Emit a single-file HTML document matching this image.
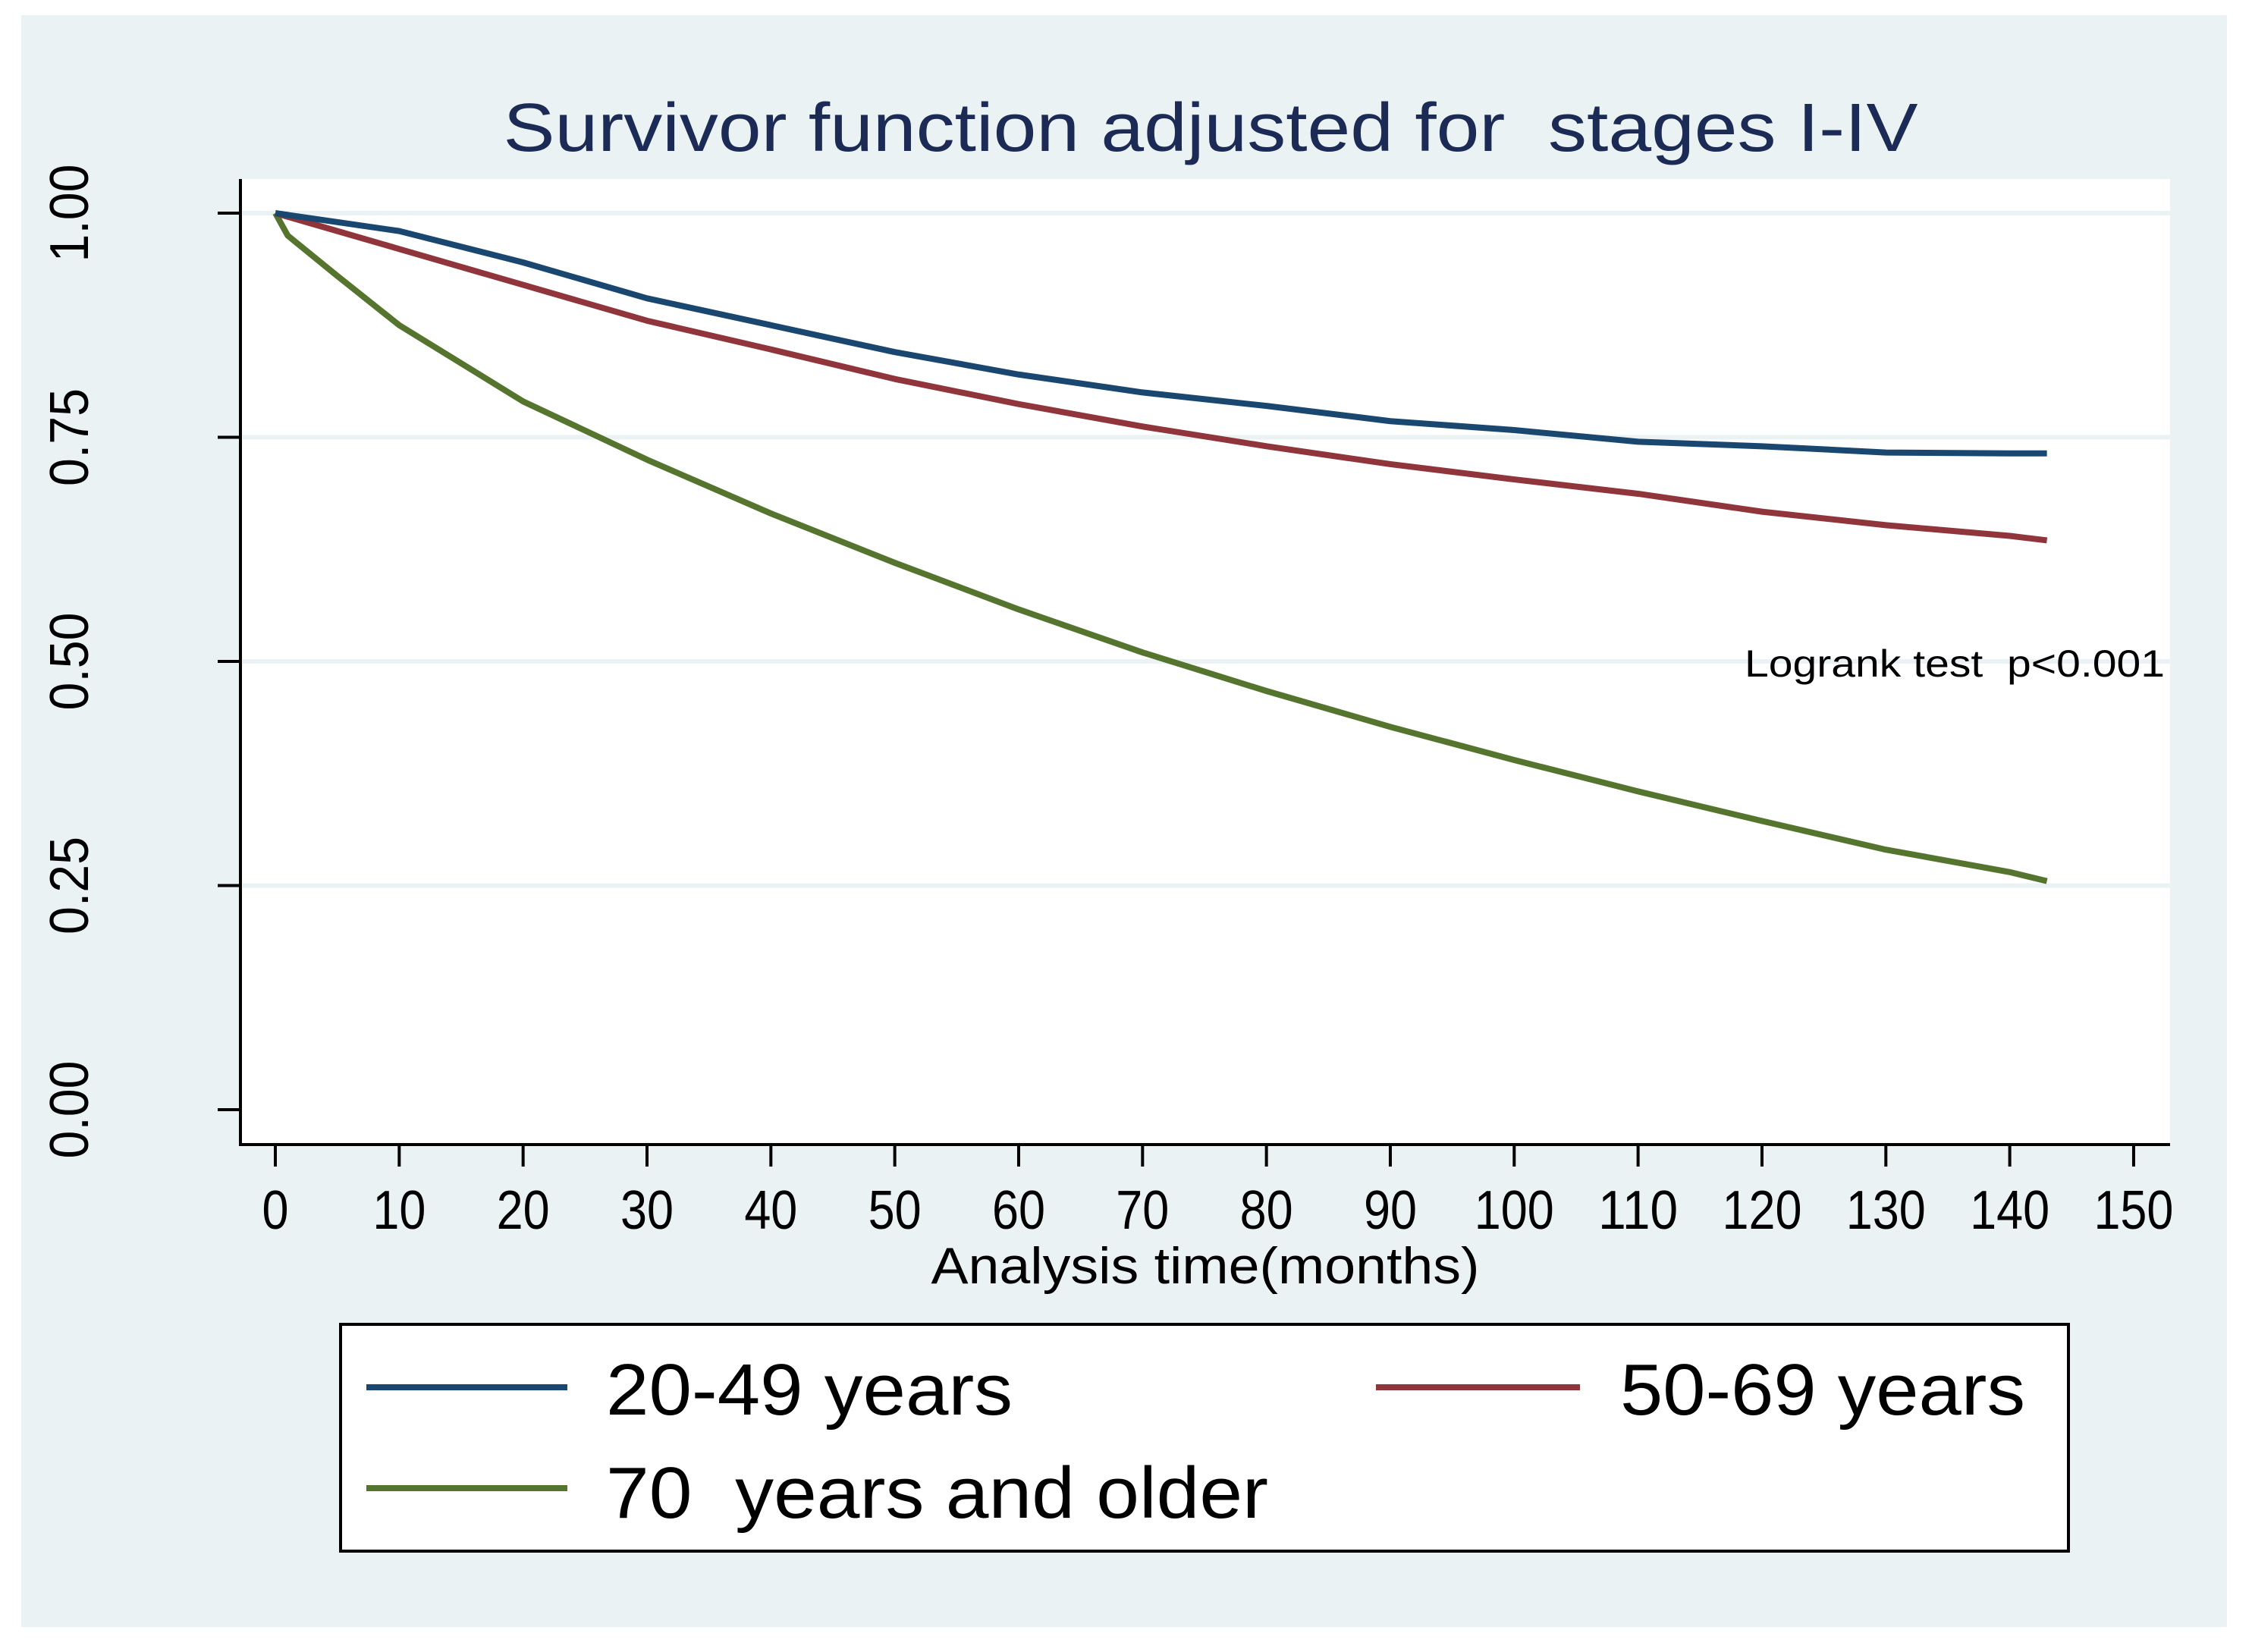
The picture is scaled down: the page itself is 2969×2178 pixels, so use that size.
<!DOCTYPE html>
<html><head><meta charset="utf-8"><style>
html,body{margin:0;padding:0;background:#fff}
svg{display:block;font-family:"Liberation Sans",Arial,sans-serif}
text{white-space:pre}
</style></head><body>
<svg width="2969" height="2178" viewBox="0 0 2969 2178" id="chart" xml:space="preserve">
<rect x="28" y="20" width="2908" height="2125" fill="#eaf2f3"/>
<rect x="317" y="236" width="2544" height="1273" fill="#ffffff"/>
<text x="1596" y="199" text-anchor="middle" font-size="90" fill="#1c2b55" textLength="1865" lengthAdjust="spacingAndGlyphs">Survivor function adjusted for  stages I-IV</text>
<g id="grid"></g>
<g id="series"></g>
<line x1="317" y1="236" x2="317" y2="1511" stroke="#000" stroke-width="4"/>
<line x1="315" y1="1509" x2="2861" y2="1509" stroke="#000" stroke-width="4"/>
<g id="axes"></g>
<text x="2854" y="892" text-anchor="end" font-size="50" fill="#000" textLength="554" lengthAdjust="spacingAndGlyphs">Logrank test  p&lt;0.001</text>
<text x="1589" y="1692" text-anchor="middle" font-size="68" fill="#000" textLength="723" lengthAdjust="spacingAndGlyphs">Analysis time(months)</text>
<g>
<rect x="449" y="1746" width="2278" height="299" fill="#fff" stroke="#000" stroke-width="4"/>
<line x1="483" y1="1829" x2="748" y2="1829" stroke="#1a476f" stroke-width="8"/>
<text x="799" y="1865" font-size="96" textLength="536" lengthAdjust="spacingAndGlyphs">20-49 years</text>
<line x1="1814" y1="1829" x2="2083" y2="1829" stroke="#90353b" stroke-width="8"/>
<text x="2136" y="1865" font-size="96" textLength="534" lengthAdjust="spacingAndGlyphs">50-69 years</text>
<line x1="483" y1="1962" x2="748" y2="1962" stroke="#55752f" stroke-width="8"/>
<text x="799" y="2001" font-size="96" textLength="873" lengthAdjust="spacingAndGlyphs">70  years and older</text>
</g>
</svg>
<script>
const months = [0,1,5,10,20,30,40,50,60,70,80,90,100,110,120,130,140,143];
const young = [1,0.998,0.99,0.98,0.945,0.905,0.875,0.845,0.82,0.80,0.785,0.768,0.758,0.745,0.74,0.733,0.732,0.732];
const middle = [1,0.996,0.98,0.96,0.92,0.88,0.848,0.815,0.787,0.762,0.74,0.72,0.703,0.687,0.667,0.652,0.64,0.635];
const older = [1,0.975,0.93,0.875,0.79,0.725,0.665,0.61,0.558,0.51,0.467,0.427,0.39,0.355,0.322,0.29,0.265,0.255];
const xTicks = [0,10,20,30,40,50,60,70,80,90,100,110,120,130,140,150];
const yTicks = [0,0.25,0.5,0.75,1];
const yTickLabels = ["0.00","0.25","0.50","0.75","1.00"];
const NS = "http://www.w3.org/2000/svg";
function xs(t){return 363 + t*16.333;}
function ys(v){return 1463 - v*1182;}
function mk(tag, attrs, parent){const e=document.createElementNS(NS,tag);for(const k in attrs)e.setAttribute(k,attrs[k]);parent.appendChild(e);return e;}
const grid=document.getElementById('grid'), axes=document.getElementById('axes'), series=document.getElementById('series');
yTicks.forEach((v,i)=>{
  if(v>0){const g=mk('line',{x1:320,x2:2861,y1:ys(v),y2:ys(v),stroke:'#eaf2f3','stroke-width':6},grid);
  
  }
  const t=mk('line',{x1:287,x2:317,y1:ys(v),y2:ys(v),stroke:'#000','stroke-width':4},axes);
  
  
  const l=mk('text',{x:0,y:0,'font-size':72,'text-anchor':'middle',textLength:129,lengthAdjust:'spacingAndGlyphs',transform:'translate(116,'+ys(v)+') rotate(-90)'},axes);
  l.textContent=yTickLabels[i];
  
  
});
xTicks.forEach(t=>{
  const k=mk('line',{x1:xs(t),x2:xs(t),y1:1509,y2:1538,stroke:'#000','stroke-width':4},axes);
  
  
  const s=String(t);
  const l=mk('text',{x:xs(t),y:1620,'font-size':72,'text-anchor':'middle',textLength:s.length*35,lengthAdjust:'spacingAndGlyphs'},axes);
  l.textContent=s;
  
  
});
function drawSeries(vals,color,name){
  let d='M'+xs(months[0])+','+ys(vals[0]);
  for(let i=1;i<months.length;i++){d+=' L'+xs(months[i])+','+ys(vals[i]);}
  const p=mk('path',{d:d,fill:'none',stroke:color,'stroke-width':8,'stroke-linejoin':'round'},series);
  
  
}
drawSeries(older,'#55752f','line-70-plus');
drawSeries(middle,'#90353b','line-50-69');
drawSeries(young,'#1a476f','line-20-49');
</script>
</body></html>
